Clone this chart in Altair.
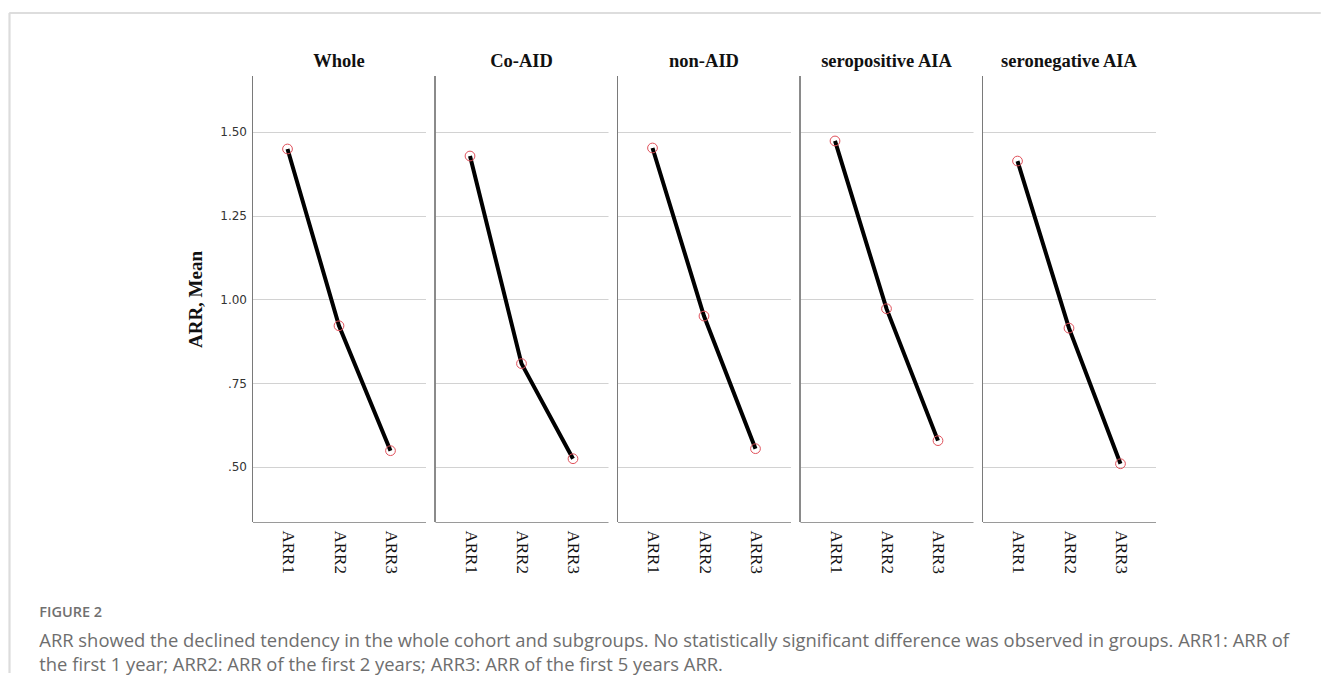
import altair as alt
import pandas as pd

groups = ["Whole", "Co-AID", "non-AID", "seropositive AIA", "seronegative AIA"]
periods = ["ARR1", "ARR2", "ARR3"]
whole = [1.449, 0.921, 0.548]
co_aid = [1.428, 0.808, 0.524]
non_aid = [1.452, 0.950, 0.554]
seropositive = [1.473, 0.972, 0.578]
seronegative = [1.413, 0.914, 0.509]
y_ticks = [0.50, 0.75, 1.00, 1.25, 1.50]
y_labels = [".50", ".75", "1.00", "1.25", "1.50"]
y_title = "ARR, Mean"
caption_head = "FIGURE 2"
caption_lines = [
    "ARR showed the declined tendency in the whole cohort and subgroups. No statistically significant difference was observed in groups. ARR1: ARR of",
    "the first 1 year; ARR2: ARR of the first 2 years; ARR3: ARR of the first 5 years ARR.",
]

series = [whole, co_aid, non_aid, seropositive, seronegative]
rows = []
for g, vals in zip(groups, series):
    for p, v in zip(periods, vals):
        rows.append({"group": g, "period": p, "value": v})
df = pd.DataFrame(rows)

label_expr = ""
for t, l in zip(y_ticks, y_labels):
    label_expr += f"abs(datum.value - {t}) < 0.001 ? '{l}' : "
label_expr += "''"

W, H = 173, 446

x_enc = alt.X(
    "period:N", sort=periods,
    scale=alt.Scale(type="point", padding=0.68),
    axis=alt.Axis(title=None, labelAngle=90, labelFont="Liberation Serif",
                  labelFontSize=17, labelColor="#111", labelPadding=8,
                  ticks=False, domainColor="#9a9a9a", domainWidth=1.2, grid=False),
)
y_enc = alt.Y(
    "value:Q",
    scale=alt.Scale(domain=[0.335, 1.667], nice=False, zero=False),
    axis=alt.Axis(title=y_title, values=y_ticks, labelExpr=label_expr,
                  labelFont="DejaVu Sans", labelFontSize=12, labelColor="#333",
                  labelPadding=6, ticks=False, domain=False, grid=True,
                  gridColor="#d2d2d2", gridWidth=1.2,
                  titleFont="Liberation Serif", titleFontSize=19,
                  titleFontWeight="bold", titleColor="#111", titlePadding=14),
)

# decorative figure frame (drawn once, from the first panel)
frame_top = alt.Chart().mark_rule(color="#dcdcdc", strokeWidth=1.5).encode(
    x=alt.value(-243), x2=alt.value(1068), y=alt.value(-63)
).transform_filter(alt.datum.group == groups[0])
frame_left = alt.Chart().mark_rule(color="#dcdcdc", strokeWidth=1.5).encode(
    x=alt.value(-243), y=alt.value(-63), y2=alt.value(597)
).transform_filter(alt.datum.group == groups[0])

left_rule = alt.Chart().mark_rule(color="#7a7a7a", strokeWidth=1).encode(
    x=alt.value(0), y=alt.value(0), y2=alt.value(H)
)
line = alt.Chart().mark_line(color="black", strokeWidth=4).encode(x=x_enc, y=y_enc)
pts = alt.Chart().mark_point(shape="circle", filled=False, color="#e0505a",
                             size=95, strokeWidth=1, opacity=1).encode(x=x_enc, y=y_enc)

chart = alt.layer(frame_top, frame_left, left_rule, line, pts, data=df).properties(
    width=W, height=H
).facet(
    column=alt.Column("group:N", sort=groups,
                      header=alt.Header(title=None, labelFont="Liberation Serif",
                                        labelFontSize=18.5, labelFontWeight="bold",
                                        labelColor="#111", labelPadding=6)),
    spacing=9.5,
    bounds="flush",
).properties(
    title=alt.TitleParams(
        text=caption_head, subtitle=caption_lines, orient="bottom", anchor="start",
        font="Open Sans", fontSize=14.5, fontWeight=600, color="#707070",
        subtitleFont="Open Sans", subtitleFontSize=18.4, subtitleColor="#6e6e6e",
        subtitleLineHeight=24, subtitlePadding=11, offset=0, dx=30.5, dy=-67.5,
    ),
    padding={"left": 0.5, "top": 4, "right": 0, "bottom": 0},
).configure(background="white").configure_view(stroke="transparent", strokeWidth=0)

chart.save("out.html", embed_options={"renderer": "svg", "actions": False})
